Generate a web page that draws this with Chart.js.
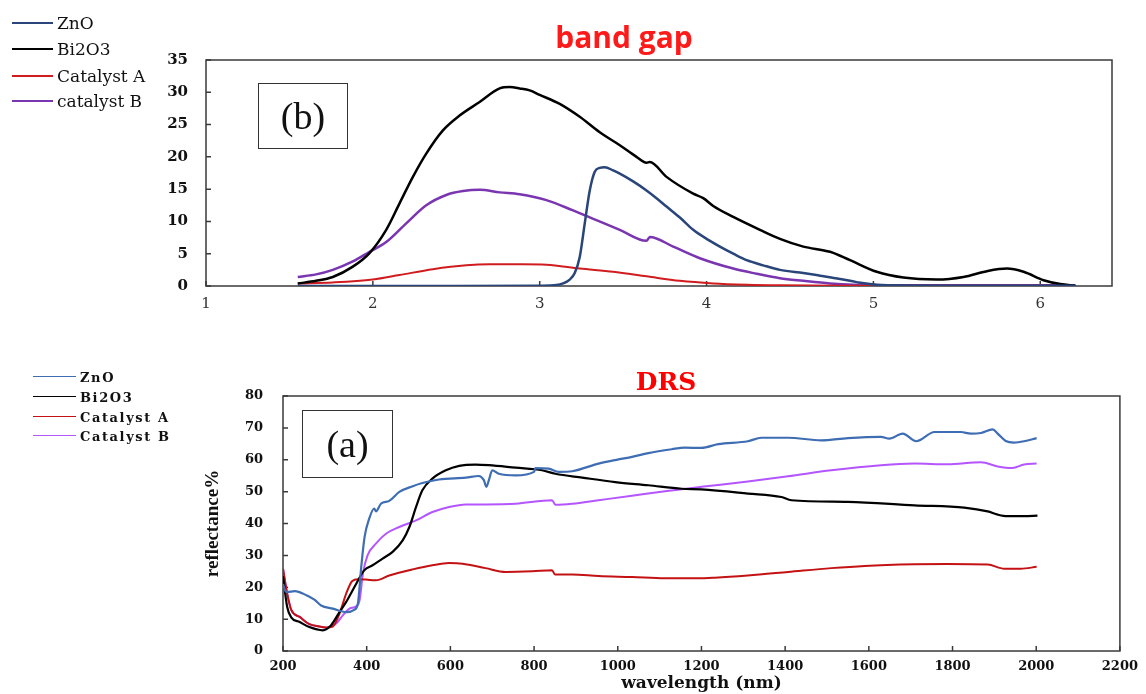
<!DOCTYPE html>
<html>
<head>
<meta charset="utf-8">
<script src="https://cdn.jsdelivr.net/npm/chart.js@4.4.1/dist/chart.umd.min.js"></script>
<style>
  html, body { margin: 0; padding: 0; background: #fff; }
  #page { position: relative; width: 1146px; height: 694px; overflow: hidden; }
  canvas { position: absolute; left: 0; top: 0; }
  .lbl { position: absolute; white-space: nowrap; }
  .key { position: absolute; height: 0; border-top: 2px solid #000; }
  .tag { position: absolute; border: 1.5px solid #333; box-sizing: border-box;
         font-family: "Liberation Serif", serif; font-size: 38px; color: #111;
         display: flex; align-items: center; justify-content: center; }
</style>
</head>
<body>
<div id="page">
  <canvas id="bandGap" width="1146" height="694"></canvas>
  <canvas id="drs" width="1146" height="694"></canvas>
</div>
<script>
// ── DATA: band gap (b) ───────────────────────────────────────────────────────
const bgZnoE = [1.55, 2.0, 2.5, 3.0, 3.1, 3.14, 3.18, 3.21, 3.24, 3.27, 3.30, 3.33, 3.36, 3.39, 3.44, 3.48, 3.56, 3.64, 3.70, 3.76, 3.84, 3.92, 4.00, 4.08, 4.16, 4.24, 4.34, 4.44, 4.58, 4.68, 4.80, 4.90, 5.05, 5.5, 6.0, 6.21];
const bgZnoV = [0, 0, 0, 0.05, 0.15, 0.4, 1.0, 2.0, 4.5, 9.7, 14.8, 17.7, 18.3, 18.4, 17.9, 17.4, 16.2, 14.8, 13.6, 12.3, 10.6, 8.7, 7.3, 6.1, 5.0, 4.0, 3.2, 2.5, 2.0, 1.6, 1.1, 0.6, 0.15, 0.05, 0.05, 0.05];

const bgBiE = [1.55, 1.66, 1.76, 1.88, 1.98, 2.08, 2.16, 2.24, 2.32, 2.42, 2.52, 2.64, 2.76, 2.82, 2.88, 2.94, 3.0, 3.12, 3.24, 3.36, 3.48, 3.58, 3.64, 3.66, 3.76, 3.92, 3.98, 4.04, 4.16, 4.32, 4.44, 4.58, 4.74, 4.86, 5.02, 5.18, 5.38, 5.54, 5.68, 5.80, 5.90, 6.02, 6.12, 6.21];
const bgBiV = [0.4, 0.8, 1.4, 3.0, 5.1, 8.7, 12.8, 16.9, 20.5, 24.1, 26.4, 28.5, 30.6, 30.8, 30.6, 30.3, 29.6, 28.2, 26.2, 23.8, 21.8, 20.0, 19.1, 19.2, 16.9, 14.3, 13.6, 12.4, 10.7, 8.7, 7.3, 6.1, 5.3, 4.0, 2.2, 1.3, 1.0, 1.4, 2.3, 2.7, 2.2, 0.9, 0.3, 0.05];

const bgCatAE = [1.55, 1.76, 2.0, 2.16, 2.36, 2.56, 2.70, 2.90, 3.04, 3.24, 3.44, 3.64, 3.84, 4.04, 4.24, 4.44, 4.8, 5.5, 6.21];
const bgCatAV = [0.4, 0.55, 1.0, 1.7, 2.6, 3.2, 3.35, 3.35, 3.3, 2.7, 2.2, 1.5, 0.8, 0.4, 0.2, 0.1, 0.05, 0.05, 0.05];

const bgCatBE = [1.55, 1.66, 1.76, 1.88, 1.98, 2.08, 2.20, 2.32, 2.44, 2.54, 2.64, 2.76, 2.88, 3.04, 3.20, 3.34, 3.48, 3.64, 3.66, 3.80, 3.96, 4.16, 4.30, 4.44, 4.58, 4.74, 4.88, 5.2, 5.8, 6.21];
const bgCatBV = [1.4, 1.8, 2.5, 3.8, 5.3, 6.8, 9.7, 12.5, 14.1, 14.7, 14.9, 14.5, 14.2, 13.3, 11.7, 10.2, 8.7, 7.0, 7.6, 6.1, 4.3, 2.7, 1.9, 1.2, 0.8, 0.4, 0.2, 0.1, 0.1, 0.1];

// ── DATA: DRS (a) ────────────────────────────────────────────────────────────
const drsZnoW = [200, 205, 210, 228, 256, 275, 291, 319, 351, 371, 379, 387, 395, 406, 418, 422, 434, 454, 478, 510, 533, 573, 637, 668, 680, 686, 692, 700, 716, 756, 800, 803, 835, 859, 891, 954, 1002, 1034, 1073, 1129, 1160, 1200, 1240, 1311, 1343, 1407, 1486, 1550, 1629, 1649, 1681, 1713, 1757, 1820, 1844, 1868, 1896, 1908, 1927, 1947, 1971, 2001];
const drsZnoR = [21, 19, 18.5, 18.8, 17.5, 16.1, 14.3, 13.3, 12.2, 13.0, 14.9, 26.4, 35.8, 41.5, 44.7, 43.8, 46.2, 47.1, 49.9, 51.7, 52.7, 53.8, 54.4, 54.9, 53.6, 51.5, 53.6, 56.7, 55.6, 55.1, 56.2, 57.4, 57.2, 56.2, 56.4, 58.8, 60.1, 60.9, 62.1, 63.3, 63.8, 63.7, 64.9, 65.8, 66.9, 66.9, 66.1, 66.8, 67.2, 66.6, 68.2, 65.8, 68.7, 68.7, 68.2, 68.4, 69.5, 68.2, 65.9, 65.4, 65.8, 66.8];

const drsBiW = [200, 210, 220, 240, 263, 295, 315, 335, 351, 375, 394, 414, 438, 462, 486, 502, 518, 533, 557, 589, 621, 660, 692, 756, 819, 851, 915, 994, 1073, 1153, 1200, 1311, 1391, 1415, 1550, 1709, 1828, 1884, 1908, 1931, 1971, 2003];
const drsBiR = [23.5, 13.8, 10.5, 9.1, 7.5, 6.5, 8.1, 12.2, 15.4, 21.1, 25.3, 26.9, 29.0, 31.1, 34.7, 38.9, 45.2, 50.4, 54.1, 56.7, 58.1, 58.5, 58.3, 57.5, 56.7, 55.6, 54.4, 53.0, 52.0, 50.9, 50.7, 49.4, 48.3, 47.3, 46.8, 45.7, 45.0, 43.8, 42.8, 42.3, 42.3, 42.5];

const drsCatAW = [200, 210, 220, 240, 263, 287, 303, 319, 335, 351, 365, 379, 398, 422, 454, 510, 557, 597, 629, 684, 732, 796, 843, 850, 891, 954, 1034, 1113, 1192, 1232, 1311, 1407, 1510, 1590, 1709, 1788, 1884, 1924, 1963, 2001];
const drsCatAR = [25.8, 18, 12.8, 10.7, 8.4, 7.7, 7.4, 7.7, 11.7, 18.0, 21.9, 22.5, 22.4, 22.2, 23.7, 25.6, 26.9, 27.6, 27.4, 26.0, 24.8, 25.0, 25.3, 24.0, 24.0, 23.5, 23.2, 22.8, 22.8, 23.0, 23.7, 24.8, 26.0, 26.7, 27.2, 27.3, 27.1, 25.8, 25.8, 26.4];

const drsCatBW = [200, 210, 220, 240, 263, 287, 303, 327, 343, 359, 375, 383, 391, 402, 422, 446, 478, 518, 557, 597, 637, 684, 756, 843, 851, 891, 954, 1034, 1113, 1200, 1311, 1407, 1510, 1629, 1709, 1788, 1868, 1908, 1943, 1971, 2001];
const drsCatBR = [25.8, 18, 12.8, 10.7, 8.4, 7.7, 7.3, 8.6, 11.2, 13.3, 14.0, 15.9, 24.3, 30.0, 33.7, 36.8, 38.9, 41.0, 43.6, 45.2, 46.0, 46.0, 46.2, 47.3, 45.9, 46.2, 47.3, 48.7, 50.1, 51.5, 53.2, 54.8, 56.7, 58.3, 58.8, 58.6, 59.2, 57.9, 57.4, 58.5, 58.8];

const bgLegend = ['ZnO', 'Bi2O3', 'Catalyst A', 'catalyst B'];
const drsLegend = ['ZnO', 'Bi2O3', 'Catalyst A', 'Catalyst B'];
const bgColors = ['#29457a', '#000000', '#d01c1f', '#7a35b0'];
const drsColors = ['#3e6db3', '#000000', '#c41214', '#b455ff'];

// ── HELPERS ──────────────────────────────────────────────────────────────────
const pts = (xs, ys) => xs.map((x, i) => ({ x, y: ys[i] }));
const plain = v => String(v); // no thousands separator

function line(label, data, color, width) {
  return { label, data, borderColor: color, borderWidth: width, pointRadius: 0,
           fill: false, cubicInterpolationMode: 'monotone' };
}

// plot frame + inward tick marks
const framePlugin = {
  id: 'frame',
  beforeDatasetsDraw(chart) {
    const { ctx, chartArea: a, scales } = chart;
    ctx.save();
    ctx.strokeStyle = '#3a3a3a';
    ctx.lineWidth = 1.5;
    ctx.strokeRect(a.left, a.top, a.right - a.left, a.bottom - a.top);
    ctx.beginPath();
    scales.x.ticks.forEach(t => {
      const px = scales.x.getPixelForValue(t.value);
      ctx.moveTo(px, a.bottom); ctx.lineTo(px, a.bottom - 5);
    });
    scales.y.ticks.forEach(t => {
      const py = scales.y.getPixelForValue(t.value);
      ctx.moveTo(a.left, py); ctx.lineTo(a.left + 5, py);
    });
    ctx.stroke();
    ctx.restore();
  }
};

const fixSize = (w, h) => scale => {
  if (w != null) scale.width = w;
  if (h != null) scale.height = h;
};

const baseOpts = {
  responsive: false, animation: false, devicePixelRatio: 1,
  plugins: { legend: { display: false }, tooltip: { enabled: false } }
};

// ── BAND GAP CHART ───────────────────────────────────────────────────────────
new Chart(document.getElementById('bandGap'), {
  type: 'line',
  data: {
    datasets: [
      line(bgLegend[0], pts(bgZnoE, bgZnoV), bgColors[0], 2.5),
      line(bgLegend[1], pts(bgBiE, bgBiV), bgColors[1], 2.5),
      line(bgLegend[2], pts(bgCatAE, bgCatAV), bgColors[2], 2),
      line(bgLegend[3], pts(bgCatBE, bgCatBV), bgColors[3], 2.5)
    ]
  },
  options: {
    ...baseOpts,
    layout: { padding: { left: 0, top: 60, right: 34, bottom: 368 } },
    scales: {
      x: {
        type: 'linear', min: 1, max: 6.43,
        grid: { display: false, drawTicks: false }, border: { display: false },
        ticks: { stepSize: 1, includeBounds: false, padding: 9, color: '#333', callback: plain,
                 font: { family: 'DejaVu Serif', size: 15 } },
        afterFit: fixSize(null, 40)
      },
      y: {
        min: 0, max: 35,
        grid: { display: false, drawTicks: false }, border: { display: false },
        ticks: { stepSize: 5, padding: 18, color: '#111', callback: plain,
                 font: { family: 'DejaVu Serif', size: 15, weight: 'bold' } },
        afterFit: fixSize(206, null)
      }
    }
  },
  plugins: [framePlugin]
});

// ── DRS CHART ────────────────────────────────────────────────────────────────
new Chart(document.getElementById('drs'), {
  type: 'line',
  data: {
    datasets: [
      line(drsLegend[0], pts(drsZnoW, drsZnoR), drsColors[0], 2.2),
      line(drsLegend[1], pts(drsBiW, drsBiR), drsColors[1], 2.2),
      line(drsLegend[2], pts(drsCatAW, drsCatAR), drsColors[2], 2),
      line(drsLegend[3], pts(drsCatBW, drsCatBR), drsColors[3], 2)
    ]
  },
  options: {
    ...baseOpts,
    layout: { padding: { left: 200, top: 396, right: 24, bottom: 0 } },
    scales: {
      x: {
        type: 'linear', min: 200, max: 2200,
        grid: { display: false, drawTicks: false }, border: { display: false },
        ticks: { stepSize: 200, padding: 8, color: '#111', callback: plain,
                 font: { family: 'DejaVu Serif', size: 13, weight: 'bold' } },
        title: { display: true, text: 'wavelength (nm)', color: '#111', padding: 0,
                 font: { family: 'DejaVu Serif', size: 17, weight: 'bold' } },
        afterFit: fixSize(null, 43)
      },
      y: {
        min: 0, max: 80,
        grid: { display: false, drawTicks: false }, border: { display: false },
        ticks: { stepSize: 10, padding: 20, color: '#111', callback: plain,
                 font: { family: 'DejaVu Serif', size: 13, weight: 'bold' } },
        title: { display: true, text: 'reflectance%', color: '#111', padding: { top: 2, bottom: 0 },
                 font: { family: 'Liberation Serif', size: 19, weight: 'bold' } },
        afterFit: fixSize(83, null)
      }
    }
  },
  plugins: [framePlugin]
});

// ── TEXT OVERLAYS: titles, keys, panel tags ─────────────────────────────────
const page = document.getElementById('page');
function addLabel(text, x, y, css) {
  const d = document.createElement('div');
  d.className = 'lbl';
  d.textContent = text;
  d.style.left = x + 'px';
  d.style.top = y + 'px';
  Object.assign(d.style, css);
  page.appendChild(d);
  return d;
}
function addKey(labels, colors, x0, x1, ys, css, thick) {
  labels.forEach((t, i) => {
    const k = document.createElement('div');
    k.className = 'key';
    Object.assign(k.style, { left: x0 + 'px', width: (x1 - x0) + 'px', top: (ys[i] - 1) + 'px',
                             borderTopColor: colors[i], borderTopWidth: thick + 'px' });
    page.appendChild(k);
    const d = addLabel(t, x1 + 4, ys[i], css);
    d.style.transform = 'translateY(-50%)';
  });
}
function addTag(text, x, y, w, h) {
  const d = document.createElement('div');
  d.className = 'tag';
  d.textContent = text;
  Object.assign(d.style, { left: x + 'px', top: y + 'px', width: w + 'px', height: h + 'px' });
  page.appendChild(d);
}

const centered = { transform: 'translate(-50%, -50%)' };
addLabel('band gap', 624, 36, { ...centered, color: '#ff1a1a', fontFamily: 'Open Sans, sans-serif',
                                fontWeight: 700, fontSize: '30px' });
addLabel('DRS', 666, 381, { ...centered, color: '#ff0000', fontFamily: 'DejaVu Serif, serif',
                           fontWeight: 700, fontSize: '25px' });

addKey(bgLegend, bgColors, 12, 53, [23, 49, 76, 101],
       { fontFamily: 'DejaVu Serif, serif', fontSize: '17px', color: '#111' }, 2);
addKey(drsLegend, drsColors, 33, 76, [377, 397, 417, 436],
       { fontFamily: 'DejaVu Serif, serif', fontSize: '13px', fontWeight: 700, color: '#111',
         letterSpacing: '1.6px' }, 1.5);

addTag('(b)', 258, 83, 90, 66);
addTag('(a)', 302, 410, 91, 68);
</script>
</body>
</html>
